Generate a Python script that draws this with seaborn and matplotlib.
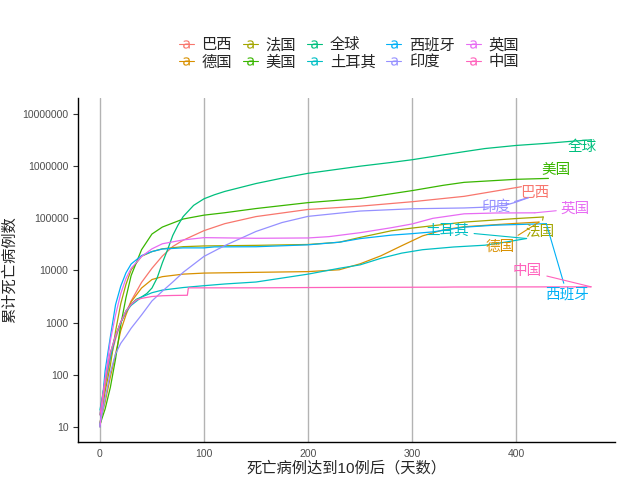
import numpy as np
import pandas as pd
import matplotlib
matplotlib.use("Agg")
import matplotlib.pyplot as plt
import seaborn as sns
from matplotlib.lines import Line2D
from matplotlib.ticker import FixedLocator, FuncFormatter

# países / séries (ordem da legenda)
countries = ["巴西", "德国", "法国", "美国", "全球", "土耳其", "西班牙", "印度", "英国", "中国"]
colors = ["#F8766D", "#D89000", "#A3A500", "#39B600", "#00BF7D",
          "#00BFC4", "#00B0F6", "#9590FF", "#E76BF3", "#FF62BC"]

days_brazil = [0, 5, 10, 15, 20, 25, 30, 40, 50, 60, 70, 80, 100, 120, 150, 200, 250, 300, 350, 380, 405]
deaths_brazil = [11, 60, 200, 480, 1000, 1550, 2600, 5900, 11000, 18900, 28800, 38000, 58000, 79000,
                 108000, 148000, 171000, 208000, 264000, 333000, 404000]

days_germany = [0, 5, 10, 15, 20, 25, 30, 40, 50, 60, 80, 100, 150, 200, 230, 250, 270, 290, 310, 330,
                350, 380, 400, 422]
deaths_germany = [12, 30, 90, 250, 700, 1400, 2500, 4600, 6700, 7600, 8500, 8900, 9200, 9500, 10300,
                  13400, 19100, 29800, 46000, 60000, 69000, 75500, 80000, 84700]

days_france = [0, 5, 10, 15, 20, 25, 30, 40, 50, 60, 80, 100, 150, 200, 230, 250, 280, 300, 350, 400, 426]
deaths_france = [10, 48, 150, 680, 2300, 5400, 10300, 18700, 23000, 26000, 28600, 29500, 30300, 31500,
                 34800, 43000, 57700, 65000, 84600, 99000, 106000]

days_us = [0, 5, 10, 15, 20, 25, 30, 40, 50, 60, 80, 100, 120, 150, 200, 250, 300, 330, 350, 400, 431]
deaths_us = [11, 22, 57, 200, 900, 3000, 8000, 25000, 50000, 68000, 97000, 115000, 128000, 154000,
             200000, 240000, 340000, 430000, 490000, 560000, 583000]

days_global = [0, 5, 10, 15, 20, 25, 30, 35, 40, 45, 50, 55, 60, 65, 70, 75, 80, 90, 100, 110, 120, 150,
               175, 200, 250, 280, 300, 330, 350, 370, 400, 430, 450, 472]
deaths_global = [17, 82, 259, 565, 1020, 1670, 2250, 2800, 3100, 3600, 4600, 7200, 14000, 25000, 47000,
                 74000, 108000, 177000, 237000, 283000, 328000, 465000, 590000, 730000, 1000000,
                 1180000, 1330000, 1650000, 1900000, 2180000, 2500000, 2750000, 2970000, 3200000]

days_turkey = [0, 5, 10, 15, 20, 25, 30, 40, 50, 60, 80, 100, 120, 150, 200, 230, 250, 270, 290, 310,
               340, 370, 390, 410]
deaths_turkey = [21, 75, 214, 550, 1000, 1600, 2140, 3080, 3740, 4200, 4700, 5100, 5500, 6000, 8500,
                 11000, 12800, 17100, 21500, 25000, 28200, 30500, 35000, 41000]

days_spain = [0, 5, 10, 15, 20, 25, 30, 40, 50, 60, 80, 100, 110, 150, 200, 230, 250, 280, 300, 320,
              350, 380, 429]
deaths_spain = [10, 120, 530, 2200, 5000, 9000, 13300, 19300, 23000, 25800, 27100, 27100, 28300, 28500,
                31000, 34800, 40800, 47600, 50800, 55000, 67600, 74000, 78800]

days_india = [0, 5, 10, 15, 20, 25, 30, 40, 50, 60, 70, 80, 100, 120, 150, 175, 200, 250, 300, 350,
              375, 390, 400, 412]
deaths_india = [11, 35, 110, 250, 400, 550, 780, 1400, 2600, 4000, 6000, 9200, 18600, 30000, 56000,
                83000, 109000, 138000, 152500, 158000, 165000, 179000, 205000, 250000]

days_uk = [0, 5, 10, 15, 20, 25, 30, 40, 50, 60, 80, 100, 150, 200, 220, 250, 280, 300, 320, 350, 380, 418]
deaths_uk = [10, 80, 450, 1400, 3600, 7000, 11000, 18500, 26000, 32500, 38500, 42600, 41400, 42000,
             44500, 53000, 66000, 78000, 100000, 122000, 126500, 127500]

days_china = [0, 5, 10, 15, 20, 25, 30, 35, 40, 50, 60, 70, 84, 85, 150, 200, 250, 330, 340, 400, 472]
deaths_china = [17, 82, 259, 563, 1018, 1666, 2236, 2717, 2915, 3162, 3270, 3312, 3342, 4636, 4640,
                4700, 4740, 4780, 4810, 4830, 4850]

# posição dos rótulos no fim das linhas
label_x = [418, 385, 423, 438, 463, 334, 449, 380, 457, 411]
label_y = [300000, 29000, 55000, 830000, 2300000, 57000, 3400, 166000, 152000, 9600]
# rótulos com segmento ligando ao fim da linha
com_segmento = [False, True, True, False, False, True, True, True, True, True]

y_ticks = [10, 100, 1000, 10000, 100000, 1000000, 10000000]

series_days = [days_brazil, days_germany, days_france, days_us, days_global,
               days_turkey, days_spain, days_india, days_uk, days_china]
series_deaths = [deaths_brazil, deaths_germany, deaths_france, deaths_us, deaths_global,
                 deaths_turkey, deaths_spain, deaths_india, deaths_uk, deaths_china]

frames = []
for nome, d, v in zip(countries, series_days, series_deaths):
    frames.append(pd.DataFrame({"dias": d, "mortes": v, "pais": nome}))
df = pd.concat(frames, ignore_index=True)
palette = dict(zip(countries, colors))

sns.set_style("white")
plt.rcParams["font.family"] = ["Liberation Sans", "Noto Sans CJK SC", "DejaVu Sans"]

fig = plt.figure(figsize=(6.4, 4.8), dpi=100)
ax = fig.add_axes([0.122, 0.079, 0.839, 0.717])

sns.lineplot(data=df, x="dias", y="mortes", hue="pais", palette=palette,
             estimator=None, legend=False, linewidth=0.9, ax=ax)
ax.set_yscale("log")
ax.set_xlim(-21, 495)
ax.set_ylim(5.1, 2.04e7)

# rótulos no estilo ggrepel
for nome, c, d, v, lx, ly, seg in zip(countries, colors, series_days, series_deaths,
                                      label_x, label_y, com_segmento):
    if seg:
        ax.annotate(nome, xy=(d[-1], v[-1]), xytext=(lx, ly), textcoords="data",
                    ha="center", va="center", color=c, fontsize=10.5,
                    arrowprops=dict(arrowstyle="-", color=c, lw=0.8, shrinkA=1, shrinkB=0))
    else:
        ax.text(lx, ly, nome, ha="center", va="center", color=c, fontsize=10.5)

ax.yaxis.set_major_locator(FixedLocator(y_ticks))
ax.yaxis.set_minor_locator(FixedLocator([]))
ax.yaxis.set_major_formatter(FuncFormatter(lambda v, p: f"{int(round(v))}"))
ax.set_xticks([0, 100, 200, 300, 400])
ax.tick_params(axis="y", labelsize=7.5, labelcolor="#4D4D4D", color="#333333",
               length=3.5, width=0.8, left=True)
ax.tick_params(axis="x", labelsize=7.5, labelcolor="#4D4D4D", length=0, pad=5)

ax.grid(axis="x", color="#B3B3B3", linewidth=1)
ax.grid(axis="y", visible=False)
for s in ["top", "right"]:
    ax.spines[s].set_visible(False)
for s in ["left", "bottom"]:
    ax.spines[s].set_color("black")
    ax.spines[s].set_linewidth(1)

ax.set_xlabel("死亡病例达到10例后（天数）", fontsize=11, labelpad=1)
ax.set_ylabel("累计死亡病例数", fontsize=11, labelpad=4)

handles = [Line2D([], [], color=c, lw=0.8, marker=r"$\mathrm{a}$", markersize=6,
                  markeredgewidth=0) for c in colors]
fig.legend(handles, countries, loc="upper center", bbox_to_anchor=(0.545, 0.95), ncol=5,
           frameon=False, fontsize=11, handlelength=1.0, handletextpad=0.5,
           columnspacing=0.7, labelspacing=0.2, numpoints=1)

plt.savefig("out.png", dpi=100)
